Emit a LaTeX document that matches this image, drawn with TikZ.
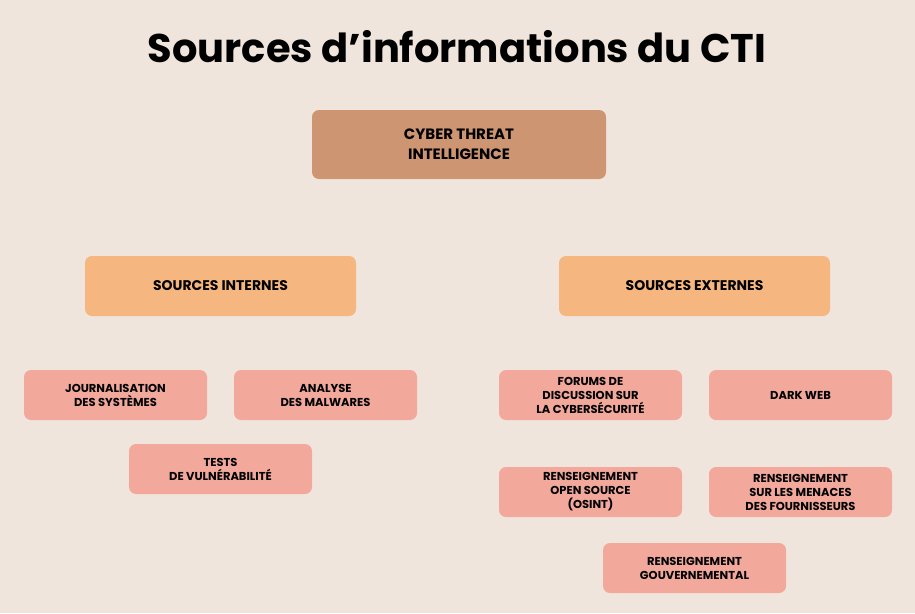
\documentclass[tikz,border=0pt]{standalone}
\usepackage{fontspec}
\setmainfont{Poppins}
\usetikzlibrary{backgrounds}
\definecolor{bg}{HTML}{F0E5DC}
\definecolor{topc}{HTML}{CD9571}
\definecolor{midc}{HTML}{F5B77F}
\definecolor{lowc}{HTML}{F2A99B}
\definecolor{ln}{HTML}{333333}
\tikzset{
 boxbase/.style={rectangle,rounded corners=7pt,align=center,font=\bfseries,text=black,inner sep=0pt},
 topbox/.style={boxbase,fill=topc,minimum width=294pt,minimum height=69pt,font=\bfseries\fontsize{15}{20}\selectfont},
 midbox/.style={boxbase,fill=midc,minimum width=271pt,minimum height=60pt,font=\bfseries\fontsize{14}{18}\selectfont},
 lowbox/.style={boxbase,fill=lowc,minimum width=183pt,minimum height=50pt,font=\bfseries\fontsize{11.5}{14}\selectfont},
 conn/.style={draw=ln,line width=1pt}
}
\begin{document}
\begin{tikzpicture}[x=1pt,y=-1pt]
\fill[bg] (0,0) rectangle (915,613);
\useasboundingbox (0,0) rectangle (915,613);
\node[font=\bfseries\fontsize{40}{48}\selectfont] (title) at (457,47) {Sources d’informations du CTI};
\node[topbox] (cti) at (459,144.5) {CYBER THREAT\\INTELLIGENCE};
\node[midbox] (int) at (220.5,286) {SOURCES INTERNES};
\node[midbox] (ext) at (694.5,286) {SOURCES EXTERNES};
\node[lowbox] (jour) at (115.5,395) {JOURNALISATION\\DES SYSTÈMES};
\node[lowbox] (mal) at (325.5,395) {ANALYSE\\DES MALWARES};
\node[lowbox] (tests) at (220.5,469) {TESTS\\DE VULNÉRABILITÉ};
\node[lowbox] (forum) at (590.5,395) {FORUMS DE\\DISCUSSION SUR\\LA CYBERSÉCURITÉ};
\node[lowbox] (dark) at (800.5,395) {DARK WEB};
\node[lowbox] (osint) at (590.5,492) {RENSEIGNEMENT\\OPEN SOURCE\\(OSINT)};
\node[lowbox] (four) at (800.5,492) {RENSEIGNEMENT\\SUR LES MENACES\\DES FOURNISSEURS};
\node[lowbox] (gouv) at (694.5,568) {RENSEIGNEMENT\\GOUVERNEMENTAL};
\coordinate (j0) at (459,203);
\coordinate (j1) at (220.5,345);
\coordinate (j2) at (694.5,345);
\coordinate (j3) at (694.5,438);
\begin{scope}[on background layer]
\draw[conn] (cti.south) -- (j0);
\draw[conn] (j0) -| (int.north);
\draw[conn] (j0) -| (ext.north);
\draw[conn] (int.south) -- (tests.north);
\draw[conn] (j1) -| (jour.north);
\draw[conn] (j1) -| (mal.north);
\draw[conn] (ext.south) -- (gouv.north);
\draw[conn] (j2) -| (forum.north);
\draw[conn] (j2) -| (dark.north);
\draw[conn] (j3) -| (osint.north);
\draw[conn] (j3) -| (four.north);
\end{scope}
\end{tikzpicture}
\end{document}
